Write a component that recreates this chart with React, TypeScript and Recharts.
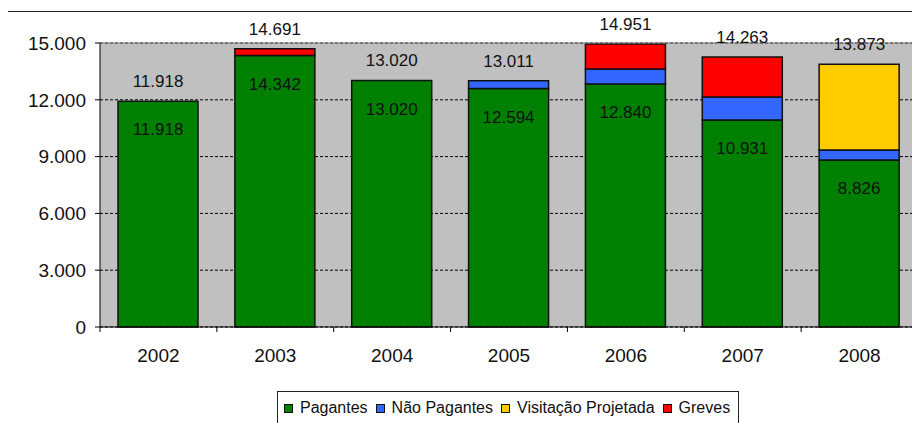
import React from 'react'
import { BarChart, Bar, XAxis, YAxis, CartesianGrid, ReferenceLine, LabelList } from 'recharts'

const YEARS = ['2002', '2003', '2004', '2005', '2006', '2007', '2008']
const PAGANTES = [11918, 14342, 13020, 12594, 12840, 10931, 8826]
const NAO_PAGANTES = [0, 0, 0, 417, 787, 1217, 523]
const VISITACAO = [0, 0, 0, 0, 0, 0, 4524]
const GREVES = [0, 349, 0, 0, 1324, 2115, 0]
const Y_TICKS = [0, 3000, 6000, 9000, 12000, 15000]

const SERIES = [
  { key: 'pagantes', label: 'Pagantes', color: '#008000' },
  { key: 'naoPagantes', label: 'Não Pagantes', color: '#3366FF' },
  { key: 'visitacao', label: 'Visitação Projetada', color: '#FFCC00' },
  { key: 'greves', label: 'Greves', color: '#FF0000' },
]

const data = YEARS.map((year, i) => ({
  year,
  pagantes: PAGANTES[i],
  naoPagantes: NAO_PAGANTES[i],
  visitacao: VISITACAO[i],
  greves: GREVES[i],
  total: PAGANTES[i] + NAO_PAGANTES[i] + VISITACAO[i] + GREVES[i],
}))

const FONT = '"Liberation Sans", Arial, sans-serif'
const W = 912
const H = 415
const M = { top: 35, right: 2, left: 0, bottom: 56 }
const Y_W = 92
const PLOT_W = W - M.left - M.right - Y_W
const PLOT_H = H - M.top - M.bottom - 40
const BAND = PLOT_W / YEARS.length

// pt-BR thousands separator
const fmt = (n: number) => String(n).replace(/\B(?=(\d{3})+(?!\d))/g, '.')

function YearTick(props: any) {
  const { x, y, payload, index } = props
  const last = index === YEARS.length - 1
  return (
    <g>
      <line x1={x - BAND / 2} x2={x - BAND / 2} y1={y} y2={y + 5} stroke="#000" />
      {last && <line x1={x + BAND / 2} x2={x + BAND / 2} y1={y} y2={y - PLOT_H} stroke="#808080" />}
      <text x={x} y={y + 22} dy="0.71em" textAnchor="middle" fontSize={19} fontFamily={FONT} fill="#111">
        {payload.value}
      </text>
    </g>
  )
}

const labelStyle = { fontSize: 17, fontFamily: FONT, fill: '#111' }

export default function App() {
  return (
    <div style={{ position: 'relative', width: W, height: H, fontFamily: FONT }}>
      <div
        style={{
          position: 'absolute',
          left: -1,
          top: 3,
          width: 930,
          height: 440,
          border: '1px solid #222',
          boxSizing: 'border-box',
        }}
      />
      <div style={{ position: 'absolute', left: 0, top: 0 }}>
        <BarChart width={W} height={H} data={data} margin={M} barSize={80}>
          <CartesianGrid
            vertical={false}
            stroke="#000"
            strokeDasharray="3 2"
            fill="#C0C0C0"
            fillOpacity={1}
          />
          <ReferenceLine y={15000} stroke="#808080" strokeWidth={1} />
          <XAxis
            dataKey="year"
            height={40}
            axisLine={{ stroke: '#000' }}
            tickLine={false}
            tickSize={0}
            tickMargin={0}
            tick={<YearTick />}
            interval={0}
          />
          <XAxis xAxisId="total" dataKey="year" hide />
          <YAxis
            width={Y_W}
            domain={[0, 15000]}
            ticks={Y_TICKS}
            tickFormatter={fmt}
            axisLine={{ stroke: '#000' }}
            tickLine={{ stroke: '#000' }}
            tickSize={5}
            tickMargin={9}
            tick={{ fontSize: 19, fontFamily: FONT, fill: '#111' }}
          />
          {SERIES.map((s) => (
            <Bar
              key={s.key}
              dataKey={s.key}
              stackId="a"
              fill={s.color}
              stroke="#111"
              strokeWidth={1.5}
              isAnimationActive={false}
            >
              {s.key === 'pagantes' && (
                <LabelList
                  dataKey="pagantes"
                  position="insideTop"
                  offset={22}
                  formatter={(v: any) => fmt(Number(v))}
                  style={labelStyle}
                />
              )}
            </Bar>
          ))}
          {/* invisible bar on its own axis, only carries the total label */}
          <Bar xAxisId="total" dataKey="total" fill="none" stroke="none" isAnimationActive={false}>
            <LabelList
              dataKey="total"
              position="top"
              offset={14}
              formatter={(v: any) => fmt(Number(v))}
              style={labelStyle}
            />
          </Bar>
        </BarChart>
      </div>
      <div
        style={{
          position: 'absolute',
          left: 269,
          top: 383,
          height: 32,
          border: '1px solid #222',
          background: '#fff',
          display: 'flex',
          alignItems: 'center',
          padding: '0 8px 0 6px',
          fontSize: 16,
          color: '#111',
          whiteSpace: 'nowrap',
        }}
      >
        {SERIES.map((s, i) => (
          <span key={s.key} style={{ display: 'flex', alignItems: 'center', marginLeft: i ? 8 : 0 }}>
            <span
              style={{
                width: 7,
                height: 7,
                background: s.color,
                border: '1px solid #111',
                marginRight: 7,
              }}
            />
            {s.label}
          </span>
        ))}
      </div>
    </div>
  )
}
